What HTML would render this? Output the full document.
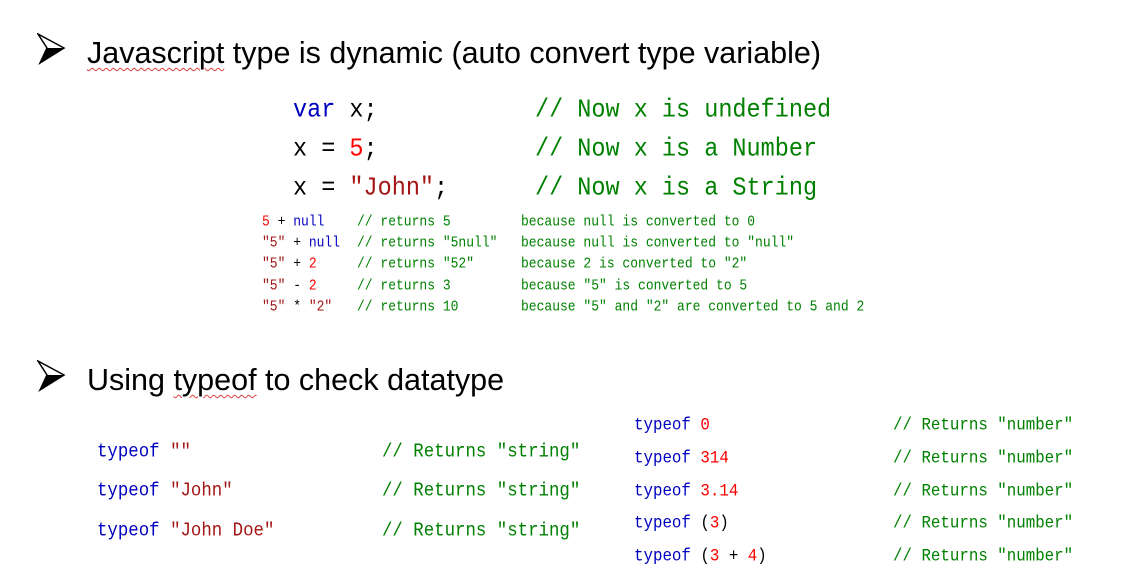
<!DOCTYPE html>
<html><head><meta charset="utf-8"><style>
body{margin:0;width:1125px;height:579px;background:#fff;position:relative;overflow:hidden;font-family:"Liberation Sans",Arial,sans-serif}
.a{position:absolute;white-space:pre;line-height:1}
.m{font-family:"Liberation Mono",monospace;transform:scaleY(1.12);transform-origin:0 50%}
.h{font-size:30.5px;color:#000}
.k{color:#0000c0}.s{color:#a31515}.n{color:#f00}.c{color:#008000}.b{color:#000}
.t1{font-size:23.5px}.t2{font-size:13px}.t3{font-size:17.4px}.t4{font-size:15.8px}
.sq{text-decoration:underline wavy #e04040;text-decoration-thickness:1px;text-underline-offset:4px}
</style></head><body>
<svg class="a" style="left:37px;top:33px" width="30" height="32" viewBox="0 0 30 32"><path d="M1 1 L27 15 L3 30 L10 15 Z" fill="#fff" stroke="#000" stroke-width="1.5"/><path d="M10 15 L27 15 L3 30 Z" fill="#000"/></svg>
<div class="a h" style="left:87px;top:38px"><span class="sq">Javascript</span> type is dynamic (auto convert type variable)</div>
<svg class="a" style="left:37px;top:360px" width="30" height="32" viewBox="0 0 30 32"><path d="M1 1 L27 15 L3 30 L10 15 Z" fill="#fff" stroke="#000" stroke-width="1.5"/><path d="M10 15 L27 15 L3 30 Z" fill="#000"/></svg>
<div class="a h" style="left:87px;top:365px">Using <span class="sq">typeof</span> to check datatype</div>

<div class="a m t1" style="left:293px;top:99px"><span class="k">var</span> x;</div>
<div class="a m t1" style="left:293px;top:138px">x = <span class="n">5</span>;</div>
<div class="a m t1" style="left:293px;top:177px">x = <span class="s">"John"</span>;</div>
<div class="a m t1 c" style="left:535px;top:99px">// Now x is undefined</div>
<div class="a m t1 c" style="left:535px;top:138px">// Now x is a Number</div>
<div class="a m t1 c" style="left:535px;top:177px">// Now x is a String</div>

<div class="a m t2" style="left:262px;top:215px"><span class="n">5</span> + <span class="k">null</span></div>
<div class="a m t2" style="left:262px;top:236px"><span class="s">"5"</span> + <span class="k">null</span></div>
<div class="a m t2" style="left:262px;top:257px"><span class="s">"5"</span> + <span class="n">2</span></div>
<div class="a m t2" style="left:262px;top:279px"><span class="s">"5"</span> - <span class="n">2</span></div>
<div class="a m t2" style="left:262px;top:300px"><span class="s">"5"</span> * <span class="s">"2"</span></div>
<div class="a m t2 c" style="left:357px;top:215px">// returns 5</div>
<div class="a m t2 c" style="left:357px;top:236px">// returns "5null"</div>
<div class="a m t2 c" style="left:357px;top:257px">// returns "52"</div>
<div class="a m t2 c" style="left:357px;top:279px">// returns 3</div>
<div class="a m t2 c" style="left:357px;top:300px">// returns 10</div>
<div class="a m t2 c" style="left:521px;top:215px">because null is converted to 0</div>
<div class="a m t2 c" style="left:521px;top:236px">because null is converted to "null"</div>
<div class="a m t2 c" style="left:521px;top:257px">because 2 is converted to "2"</div>
<div class="a m t2 c" style="left:521px;top:279px">because "5" is converted to 5</div>
<div class="a m t2 c" style="left:521px;top:300px">because "5" and "2" are converted to 5 and 2</div>

<div class="a m t3" style="left:97px;top:444px"><span class="k">typeof</span> <span class="s">""</span></div>
<div class="a m t3" style="left:97px;top:483px"><span class="k">typeof</span> <span class="s">"John"</span></div>
<div class="a m t3" style="left:97px;top:523px"><span class="k">typeof</span> <span class="s">"John Doe"</span></div>
<div class="a m t3 c" style="left:382px;top:444px">// Returns "string"</div>
<div class="a m t3 c" style="left:382px;top:483px">// Returns "string"</div>
<div class="a m t3 c" style="left:382px;top:523px">// Returns "string"</div>

<div class="a m t4" style="left:634px;top:418px"><span class="k">typeof</span> <span class="n">0</span></div>
<div class="a m t4" style="left:634px;top:451px"><span class="k">typeof</span> <span class="n">314</span></div>
<div class="a m t4" style="left:634px;top:484px"><span class="k">typeof</span> <span class="n">3.14</span></div>
<div class="a m t4" style="left:634px;top:516px"><span class="k">typeof</span> (<span class="n">3</span>)</div>
<div class="a m t4" style="left:634px;top:549px"><span class="k">typeof</span> (<span class="n">3</span> + <span class="n">4</span>)</div>
<div class="a m t4 c" style="left:893px;top:418px">// Returns "number"</div>
<div class="a m t4 c" style="left:893px;top:451px">// Returns "number"</div>
<div class="a m t4 c" style="left:893px;top:484px">// Returns "number"</div>
<div class="a m t4 c" style="left:893px;top:516px">// Returns "number"</div>
<div class="a m t4 c" style="left:893px;top:549px">// Returns "number"</div>
</body></html>
